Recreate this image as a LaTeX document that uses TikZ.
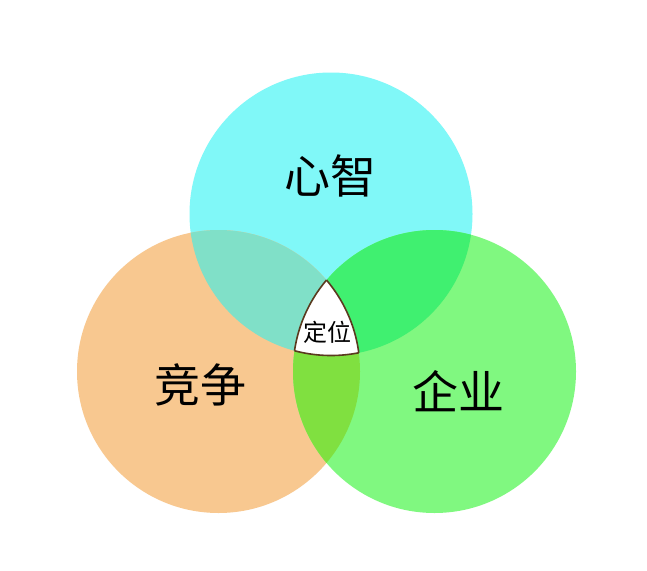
\documentclass[tikz,border=0pt]{standalone}
\usepackage{fontspec}
\newfontfamily\cjk{Noto Sans CJK SC}
\definecolor{cy}{HTML}{80F8F8}
\definecolor{orc}{HTML}{F8C890}
\definecolor{grc}{HTML}{80F880}
\definecolor{cyor}{HTML}{80E0C8}
\definecolor{cygr}{HTML}{40F070}
\definecolor{orgr}{HTML}{80E040}
\definecolor{edge}{HTML}{5A3A1E}
\tikzset{
  lbl/.style={font=\cjk\fontsize{46}{50}\selectfont, text=black, inner sep=0pt},
  smalllbl/.style={font=\cjk\fontsize{24}{26}\selectfont, text=black, inner sep=0pt},
}
\begin{document}
\begin{tikzpicture}[x=1pt,y=-1pt]
\useasboundingbox (0,0) rectangle (647,570);
\fill[white] (0,0) rectangle (647,570);
\coordinate (C) at (331,214);
\coordinate (O) at (218.5,371.5);
\coordinate (G) at (434.5,371.5);
\def\R{141.5pt}
\fill[cy] (C) circle[radius=\R];
\fill[orc] (O) circle[radius=\R];
\fill[grc] (G) circle[radius=\R];
\begin{scope}
  \clip (C) circle[radius=\R];
  \fill[cyor] (O) circle[radius=\R];
  \fill[cygr] (G) circle[radius=\R];
\end{scope}
\begin{scope}
  \clip (O) circle[radius=\R];
  \fill[orgr] (G) circle[radius=\R];
\end{scope}
\begin{scope}
  \clip (C) circle[radius=\R];
  \clip (O) circle[radius=\R];
  \fill[white] (G) circle[radius=\R];
\end{scope}
\begin{scope}
  \clip (O) circle[radius=\R];
  \clip (G) circle[radius=\R];
  \draw[edge, line width=1.6pt] (C) circle[radius=\R];
\end{scope}
\begin{scope}
  \clip (C) circle[radius=\R];
  \clip (G) circle[radius=\R];
  \draw[edge, line width=1.6pt] (O) circle[radius=\R];
\end{scope}
\begin{scope}
  \clip (C) circle[radius=\R];
  \clip (O) circle[radius=\R];
  \draw[edge, line width=1.6pt] (G) circle[radius=\R];
\end{scope}
\node[lbl] (xz) at (330,176) {心智};
\node[lbl] (jz) at (200,385) {竞争};
\node[lbl] (qy) at (458,391) {企业};
\node[smalllbl] (dw) at (327,332) {定位};
\end{tikzpicture}
\end{document}
